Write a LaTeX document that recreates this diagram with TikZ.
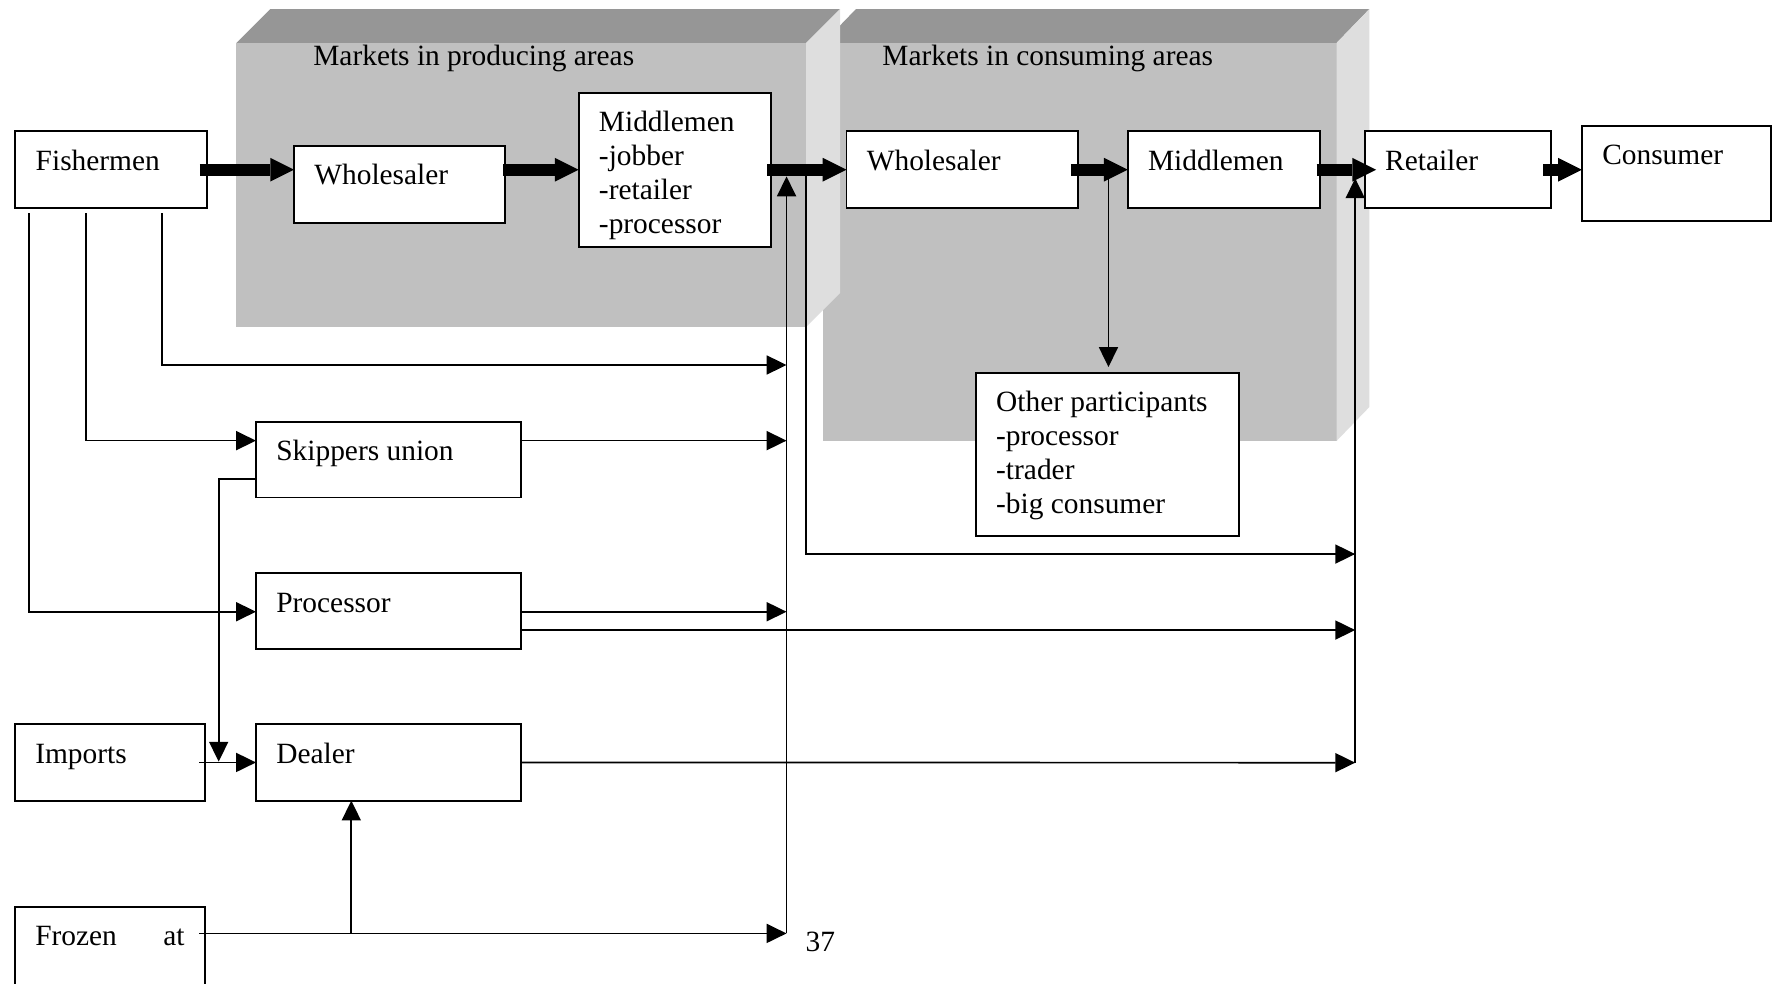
\documentclass[tikz,border=0pt]{standalone}
\usepackage{fontspec}
\setmainfont{Liberation Serif}
\usetikzlibrary{arrows.meta,calc}
\definecolor{pfront}{HTML}{C0C0C0}
\definecolor{ptop}{HTML}{969696}
\definecolor{pside}{HTML}{DEDEDE}
\newcommand{\mkbox}[6]{%
  \node[box, minimum width={(#4-#2)*0.5pt}, minimum height={(#5-#3)*0.5pt}] (#1) at (#2,#3) {};
  \node[txt] (#1-t) at ($(#1.north west)+(8.8pt,-6.5pt)$) {\strut #6};}
\begin{document}
\begin{tikzpicture}[x=0.5pt,y=-0.5pt,
  box/.style={draw=black, line width=0.85pt, fill=white, inner sep=0pt, outer sep=0pt, anchor=north west},
  txt/.style={anchor=north west, inner sep=0pt, align=left, font=\fontsize{13}{15}\selectfont},
  conn/.style={line width=0.75pt, -{Triangle[length=8.8pt,width=8.4pt]}},
  big/.style={line width=5.2pt, -{Triangle[length=10.5pt,width=10.5pt,line width=0pt]}},
  front/.style={fill=pfront},
  topface/.style={fill=ptop},
  sideface/.style={fill=pside}]
\path[use as bounding box] (0,0) rectangle (1568,870);
\clip (0,0) rectangle (1568,870);

% panel: consuming areas
\path[front] (728,38) rectangle (1182,390);
\path[topface] (728,38) -- (757,8) -- (1211,8) -- (1182,38) -- cycle;
\path[sideface] (1182,38) -- (1211,8) -- (1211,360) -- (1182,390) -- cycle;
% panel: producing areas
\path[front] (209,38) rectangle (713,289);
\path[topface] (209,38) -- (239,8) -- (743,8) -- (713,38) -- cycle;
\path[sideface] (713,38) -- (743,8) -- (743,259) -- (713,289) -- cycle;

\node[txt, anchor=base west] (t1) at (276.7,57.5) {Markets in producing areas};
\node[txt, anchor=base west] (t2) at (780,57.5) {Markets in consuming areas};

% boxes
\mkbox{fish}{13.6}{116}{182.8}{184.2}{Fishermen}
\mkbox{w1}{260}{128.8}{447}{197}{Wholesaler}
\mkbox{m1}{511.7}{82}{681.5}{218.2}{Middlemen\\-jobber\\-retailer\\-processor}
\mkbox{w2}{748.6}{116}{953}{184.2}{Wholesaler}
\mkbox{m2}{997.3}{116}{1167.4}{184.2}{Middlemen}
\mkbox{rt}{1207}{116}{1371.6}{184.2}{Retailer}
\mkbox{cs}{1399}{111.4}{1566.3}{195.2}{Consumer}
\mkbox{op}{863}{329.6}{1095.5}{474.4}{Other participants\\-processor\\-trader\\-big consumer}
\mkbox{sk}{226.4}{372.9}{461}{440}{Skippers union}
\mkbox{pr}{226.4}{507}{461}{574}{Processor}
\mkbox{im}{13.2}{640.6}{181.3}{708}{Imports}
\mkbox{dl}{226.4}{640.6}{461}{708}{Dealer}
\mkbox{fz}{13.2}{801.9}{181.3}{900}{\hbox to 66pt{Frozen\hfill at}}

\node[txt, anchor=base west] (pg) at (712,841.7) {37};

% named points
\coordinate (f1) at (25.4,188.7);
\coordinate (f2) at (76.1,188.7);
\coordinate (f3) at (143.2,188.7);
\coordinate (e1) at (695.6,322.8);
\coordinate (b1top) at (695.6,156);
\coordinate (b1bot) at (695.6,825.5);
\coordinate (b2top) at (713,150);
\coordinate (e2) at (1198.5,490);
\coordinate (b3top) at (1198.5,157.7);
\coordinate (b3bot) at (1198.5,674.5);
\coordinate (optop) at (980.3,150);
\coordinate (skin) at ($(sk.north west)+(0,-8.4pt)$);
\coordinate (skout) at ($(sk.north east)+(0,-8.4pt)$);
\coordinate (skdn) at ($(sk.north west)+(0,-25.35pt)$);
\coordinate (dn) at (193.4,673.6);
\coordinate (prin) at ($(pr.north west)+(0,-17pt)$);
\coordinate (pr1) at ($(pr.north east)+(0,-17pt)$);
\coordinate (pr2) at ($(pr.north east)+(0,-25.1pt)$);
\coordinate (imo) at ($(im.east)+(-2.5pt,0)$);
\coordinate (fzo) at ($(fz.north east)+(-2.5pt,-11.8pt)$);
\coordinate (br) at (310.7,825.5);

% thin connectors
\draw[conn] (f3) |- (e1);
\draw[conn] (f2) |- (skin);
\draw[conn] (f1) |- (prin);
\draw[conn] (skout) -- (b1top |- skout);
\draw[conn] (skdn) -| (dn);
\draw[conn] (pr1) -- (b1top |- pr1);
\draw[conn] (pr2) -- (b3top |- pr2);
\draw[conn] (imo) -- (dl.west |- imo);
\draw[conn] (dl.east) -- (b3bot);
\draw[conn] (fzo) -- (b1bot);
\draw[conn] (br) -- (dl.south -| br);
\draw[conn] (b1bot) -- (b1top);
\draw[conn] (b2top) |- (e2);
\draw[conn] (b3bot) -- (b3top);
\draw[conn] (optop) -- ($(op.north -| optop)+(0,2.5pt)$);

% thick arrows
\draw[big] ($(fish.east)+(-3pt,0)$) -- (w1.west |- fish.east);
\draw[big] ($(w1.east |- fish.east)+(-1pt,0)$) -- (m1.west |- fish.east);
\draw[big] ($(m1.east |- fish.east)+(-1.5pt,0)$) -- (w2.west);
\draw[big] ($(w2.east)+(-3pt,0)$) -- (m2.west);
\draw[big] ($(m2.east)+(-1.5pt,0)$) -- ($(rt.west)+(5pt,0)$);
\draw[big] ($(rt.east)+(-3.5pt,0)$) -- (cs.west |- rt.east);
\end{tikzpicture}
\end{document}
